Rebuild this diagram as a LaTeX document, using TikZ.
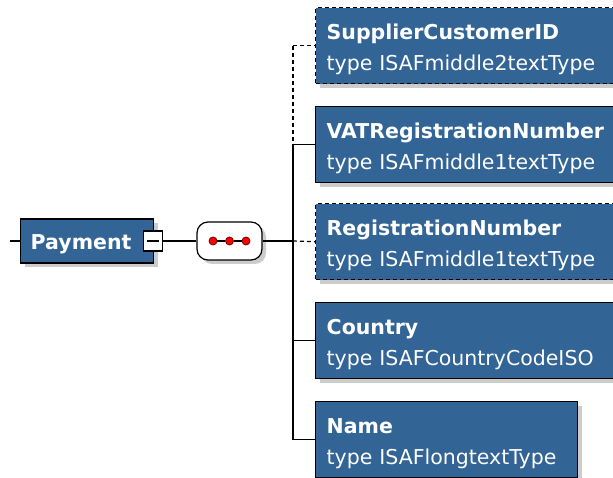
\documentclass[tikz,border=0pt]{standalone}
\usepackage{fontspec}
\setmainfont{DejaVu Sans}
\usetikzlibrary{shadows}
\definecolor{xsdblue}{RGB}{50,100,150}
\tikzset{
	link/.style={line width=1.2pt},
	optional/.style={dash pattern=on 4pt off 3pt},
	elem/.style={draw=black, line width=1.4pt, fill=xsdblue, text=white, anchor=north west,
		minimum height=76pt, inner xsep=11pt, inner ysep=0pt, align=left, text width=300pt,
		text height=32pt, text depth=44pt, font=\fontsize{20.5}{31}\selectfont,
		drop shadow={shadow xshift=4pt, shadow yshift=-4pt, fill=black!20, opacity=1}},
	rootelem/.style={elem, anchor=west, minimum height=44pt, inner xsep=10pt, text width=113pt,
		text height=31pt, text depth=13pt, font=\bfseries\fontsize{20.5}{24}\selectfont},
	collapse/.style={draw=black, fill=white, line width=1.2pt, minimum width=19pt, minimum height=20pt, inner sep=0pt},
	seqbox/.style={draw=black, fill=white, line width=1.2pt, rounded corners=11pt,
		minimum width=65pt, minimum height=38pt, inner sep=0pt,
		drop shadow={shadow xshift=4pt, shadow yshift=-4pt, fill=black!20, opacity=1}},
	reddot/.style={circle, fill=red, draw=red!45!black, line width=0.8pt, minimum size=8pt, inner sep=0pt}
}

\begin{document}
\begin{tikzpicture}[x=1pt, y=-1pt]
			%%%%% START %%%%%
			\useasboundingbox (0,0) rectangle (613,478);
			
			\node[rootelem] (payment) at (20,241) {Payment};
			\node[collapse] (coll) at (153,241) {};
			\draw[line width=1.5pt] ([xshift=4pt]coll.west) -- ([xshift=-4pt]coll.east);
			\coordinate (stub) at (10,241);
			\draw[link] (stub) -- (payment.west);
			
			\node[seqbox] (seq) at (229.5,241) {};
			\foreach \i/\x in {1/213,2/229.5,3/246}
				\node[reddot] (d\i) at (\x,241) {};
			\draw[line width=1.5pt] (d1) -- (d2) -- (d3);
			\draw[link] (coll) -- (seq);
			
			\node[elem, optional] (supplier) at (315,7) {\textbf{SupplierCustomerID}\\type~ISAFmiddle2textType};
			\node[elem] (vat) at (315,106) {\textbf{VATRegistrationNumber}\\type~ISAFmiddle1textType};
			\node[elem, optional] (regnum) at (315,203) {\textbf{RegistrationNumber}\\type~ISAFmiddle1textType};
			\node[elem] (country) at (315,302) {\textbf{Country}\\type~ISAFCountryCodeISO};
			\node[elem, text width=240pt] (name) at (315,401) {\textbf{Name}\\type~ISAFlongtextType};
			
			\coordinate (spine) at (293,241);
			\draw[link] (seq.east) -- (spine);
			\draw[link, optional] (spine) -- (regnum.west);
			\draw[link, optional] (spine |- supplier.west) -- (supplier.west);
			\draw[link, optional] (spine |- supplier.west) -- (spine |- vat.west);
			\draw[link] (spine |- vat.west) -- (vat.west);
			\draw[link] (spine |- vat.west) -- (spine |- name.west);
			\draw[link] (spine |- country.west) -- (country.west);
			\draw[link] (spine |- name.west) -- (name.west);
			%%%%% END %%%%%
\end{tikzpicture}
\end{document}
